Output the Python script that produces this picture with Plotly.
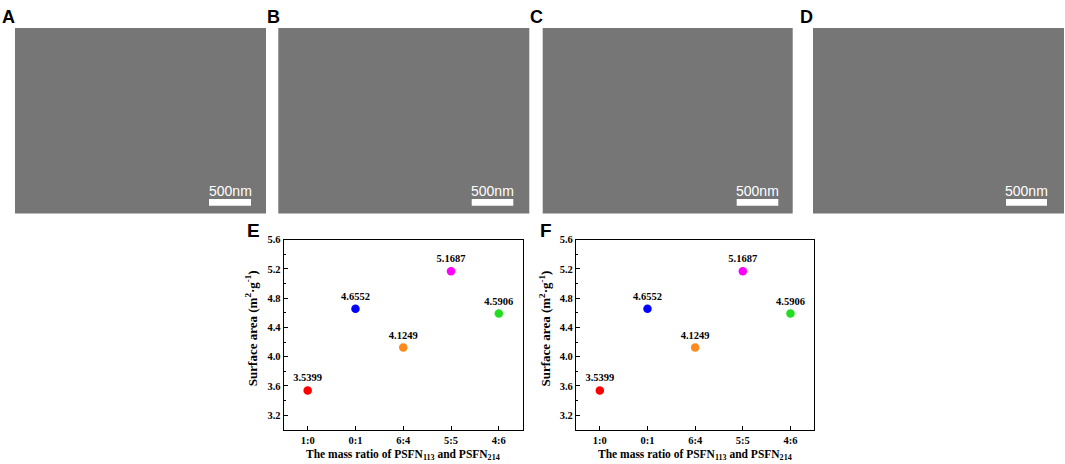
import plotly.graph_objects as go

# ---- data ----
ratios = ["1:0", "0:1", "6:4", "5:5", "4:6"]
surface_area = [3.5399, 4.6552, 4.1249, 5.1687, 4.5906]
labels = ["3.5399", "4.6552", "4.1249", "5.1687", "4.5906"]
point_colors = ["#ff0000", "#0000ff", "#ff8a1c", "#ff00ff", "#22dd22"]
panel_letters = ["A", "B", "C", "D"]
y_ticks = [3.2, 3.6, 4.0, 4.4, 4.8, 5.2, 5.6]

W, H = 1065, 464


def px(x):
    return x / W


def py(y):
    return 1 - y / H


fig = go.Figure()

serif = "Liberation Serif"
sans = "Liberation Sans"

for i, ax in enumerate(["", "2"]):
    fig.add_trace(go.Scatter(
        x=ratios, y=surface_area, mode="markers+text",
        text=labels, textposition="top center",
        textfont=dict(family=serif, size=10.5, color="black", weight="bold"),
        marker=dict(size=8.5, color=point_colors),
        xaxis="x" + ax, yaxis="y" + ax, showlegend=False, cliponaxis=False,
    ))

axis_common_x = dict(
    type="category", range=[-0.5, 4.5], showline=True, linecolor="black",
    linewidth=1.3, mirror=True, ticks="inside", ticklen=4, tickcolor="black",
    tickwidth=1, showgrid=False, zeroline=False,
    tickfont=dict(family=serif, size=10.5, color="black", weight="bold"),
)
axis_common_y = dict(
    range=[3.0, 5.6], tickvals=y_ticks, ticktext=[f"{v:.1f}" for v in y_ticks],
    showline=True, linecolor="black", linewidth=1.3, mirror=True,
    ticks="inside", ticklen=4, tickcolor="black", tickwidth=1,
    showgrid=False, zeroline=False,
    minor=dict(dtick=0.2, tick0=3.0, ticks="inside", ticklen=2, tickcolor="black"),
    tickfont=dict(family=serif, size=10.5, color="black", weight="bold"),
)

ydom = [py(429.5), py(237.3)]
fig.update_layout(
    width=W, height=H, margin=dict(l=0, r=0, t=0, b=0),
    paper_bgcolor="white", plot_bgcolor="white",
    xaxis=dict(domain=[px(283.8), px(522.7)], anchor="y", **axis_common_x),
    yaxis=dict(domain=ydom, anchor="x", **axis_common_y),
    xaxis2=dict(domain=[px(576.0), px(814.3)], anchor="y2", **axis_common_x),
    yaxis2=dict(domain=ydom, anchor="x2", **axis_common_y),
)

shapes = []
annotations = []

# SEM image placeholders (top row)
img_boxes = [(15, 266), (278.3, 529.3), (542.7, 792.7), (813, 1064)]
bar_boxes = [(209, 251), (471.7, 513.3), (736.7, 778.3), (1006, 1047)]
letter_x = [9, 273, 536, 806.5]
for (x0, x1), (b0, b1), lx, letter in zip(img_boxes, bar_boxes, letter_x, panel_letters):
    shapes.append(dict(type="rect", xref="paper", yref="paper",
                       x0=px(x0), x1=px(x1), y0=py(210.7), y1=py(23.3),
                       fillcolor="#767676", line=dict(width=0), layer="below"))
    shapes.append(dict(type="rect", xref="paper", yref="paper",
                       x0=px(b0), x1=px(b1), y0=py(203), y1=py(196),
                       fillcolor="white", line=dict(width=0)))
    annotations.append(dict(text="500nm", x=px((b0 + b1) / 2), y=py(188),
                            xref="paper", yref="paper", showarrow=False,
                            font=dict(family=sans, size=14, color="white"),
                            xanchor="center", yanchor="middle"))
    annotations.append(dict(text=f"<b>{letter}</b>", x=px(lx), y=py(12.5),
                            xref="paper", yref="paper", showarrow=False,
                            font=dict(family=sans, size=18, color="black"),
                            xanchor="center", yanchor="middle"))

# chart panel letters and titles
for lx, letter, ytx, xc in [(253.5, "E", 251.7, 403), (545.5, "F", 545.0, 695.2)]:
    annotations.append(dict(text=f"<b>{letter}</b>", x=px(lx), y=py(227.5),
                            xref="paper", yref="paper", showarrow=False,
                            font=dict(family=sans, size=19, color="black"),
                            xanchor="center", yanchor="middle"))
    annotations.append(dict(text="<b>Surface area (m<sup>2</sup>·g<sup>-1</sup>)</b>",
                            x=px(ytx), y=py(327), xref="paper", yref="paper",
                            showarrow=False, textangle=-90,
                            font=dict(family=serif, size=13, color="black"),
                            xanchor="center", yanchor="middle"))
    annotations.append(dict(text="<b>The mass ratio of PSFN<sub>113</sub> and PSFN<sub>214</sub></b>",
                            x=px(xc), y=py(454.5), xref="paper", yref="paper",
                            showarrow=False,
                            font=dict(family=serif, size=11.5, color="black"),
                            xanchor="center", yanchor="middle"))

fig.update_layout(shapes=shapes, annotations=annotations)

fig.write_html(
    "out.html",
    config={"displayModeBar": False},
    post_script="document.body.style.margin='0';document.body.style.overflow='hidden';",
)
